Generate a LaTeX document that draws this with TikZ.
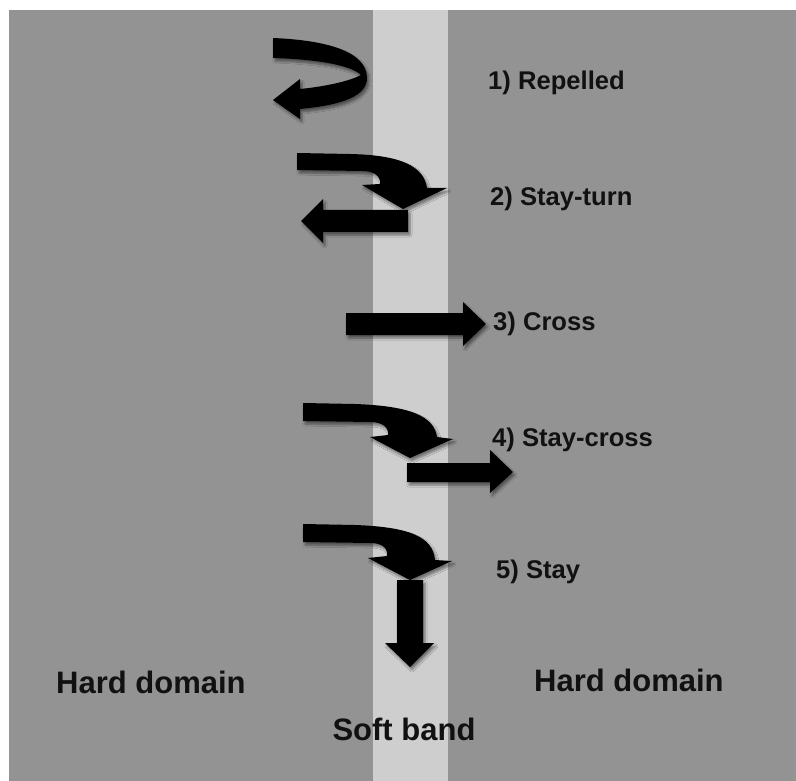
\documentclass[tikz,border=0pt]{standalone}
\usepackage{fontspec}
\setmainfont{Liberation Sans}
\usetikzlibrary{shadows.blur}
\definecolor{hardgray}{HTML}{939393}
\definecolor{softgray}{HTML}{CECECE}
\definecolor{txt}{HTML}{111111}
\begin{document}
\begin{tikzpicture}[x=1pt,y=-1pt,
  arrowshape/.style={fill=black, draw=none, blur shadow={shadow xshift=2pt, shadow yshift=-3pt, shadow blur steps=6, shadow opacity=45}},
  lbl/.style={inner sep=0pt, anchor=base west, text=txt, font=\fontsize{25.6}{28}\selectfont\bfseries},
  biglbl/.style={inner sep=0pt, text=txt, font=\fontsize{31}{34}\selectfont\bfseries}]
\useasboundingbox (0,0) rectangle (796,781);
\fill[white] (0,0) rectangle (796,781);
\fill[hardgray] (9,10) rectangle (796,781);
\fill[softgray] (373,10) rectangle (448,781);

% 1) Repelled
\path[arrowshape] (273,38) .. controls (322,40) and (366,50) .. (367,77)
  .. controls (368,100) and (330,106) .. (300,109)
  -- (300,119) -- (273,100) -- (300,79) -- (300,89)
  .. controls (330,86) and (352,80) .. (361,75)
  .. controls (350,64) and (310,59) .. (273,58) -- cycle;

% 2) Stay-turn
\path[arrowshape] (297,153) -- (350,154) .. controls (400,155) and (424,166) .. (427,188)
  -- (447,188) -- (403,209) -- (362,185) -- (380,184)
  .. controls (381,176) and (374,171) .. (362,171) -- (297,170) -- cycle;
\path[arrowshape] (408,210) -- (323,210) -- (323,199) -- (301,221) -- (323,243)
  -- (323,232) -- (408,232) -- cycle;

% 3) Cross
\path[arrowshape] (346,313) -- (463,313) -- (463,302) -- (486,324) -- (463,346)
  -- (463,335) -- (346,335) -- cycle;

% 4) Stay-cross
\path[arrowshape] (303,403) -- (355,404) .. controls (410,406) and (434,416) .. (437,437)
  -- (453,439) -- (410,458) -- (370,437) -- (388,435)
  .. controls (389,427) and (382,422) .. (370,422) -- (303,421) -- cycle;
\path[arrowshape] (407,463) -- (490,463) -- (490,450) -- (513,472) -- (490,493)
  -- (490,482) -- (407,482) -- cycle;

% 5) Stay
\path[arrowshape] (303,524) -- (355,525) .. controls (410,527) and (433,537) .. (435,560)
  -- (452,561) -- (410,580) -- (368,558) -- (387,556)
  .. controls (388,547) and (381,543) .. (370,543) -- (303,542) -- cycle;
\path[arrowshape] (397,580) -- (423,580) -- (423,643) -- (434,643) -- (410,667)
  -- (385,643) -- (397,643) -- cycle;

% labels
\node[lbl] (l1) at (488,90) {1) Repelled};
\node[lbl] (l2) at (490,206) {2) Stay-turn};
\node[lbl] (l3) at (493,330) {3) Cross};
\node[lbl] (l4) at (492,446) {4) Stay-cross};
\node[lbl] (l5) at (496,578) {5) Stay};
\node[biglbl, anchor=base west] (hl) at (56,693) {Hard domain};
\node[biglbl, anchor=base west] (hr) at (534,691) {Hard domain};
\node[biglbl, anchor=base] (sb) at (404,740) {Soft band};
\end{tikzpicture}
\end{document}
